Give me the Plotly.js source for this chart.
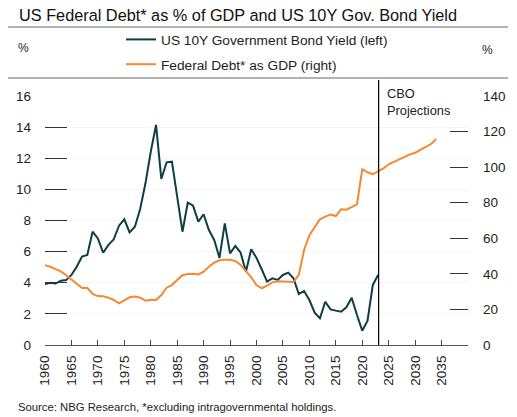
<!DOCTYPE html>
<html>
<head>
<meta charset="utf-8">
<script src="https://cdn.plot.ly/plotly-3.0.1.min.js"></script>
<style>
  html, body { margin: 0; padding: 0; background: #fff; }
  #chart { width: 517px; height: 417px; }
</style>
</head>
<body>
<div id="chart"></div>
<script>
const yieldYears = [];
for (let y = 1960; y <= 2023; y++) yieldYears.push(y);
const bondYield = [3.92, 4.0, 3.95, 4.13, 4.17, 4.5, 5.03, 5.68, 5.78, 7.28,
  6.85, 5.93, 6.43, 6.79, 7.67, 8.08, 7.24, 7.6, 8.74, 10.39,
  12.42, 14.14, 10.67, 11.74, 11.78, 9.64, 7.28, 9.15, 8.95, 7.93,
  8.4, 7.39, 6.75, 5.6, 7.82, 5.89, 6.36, 5.93, 4.71, 6.15,
  5.6, 4.85, 4.07, 4.28, 4.18, 4.5, 4.65, 4.28, 3.28, 3.47,
  2.89, 2.08, 1.71, 2.78, 2.29, 2.21, 2.14, 2.42, 3.04, 1.93,
  0.92, 1.56, 3.86, 4.5];

const debtYears = [];
for (let y = 1960; y <= 2034; y++) debtYears.push(y);
const federalDebt = [44.8, 44.0, 42.7, 41.4, 39.2, 36.9, 34.3, 32.0, 32.2, 28.7,
  27.5, 27.4, 26.6, 25.3, 23.4, 24.9, 26.8, 27.2, 26.6, 24.9,
  25.5, 25.3, 28.1, 32.2, 33.7, 36.5, 39.2, 39.9, 40.1, 39.7,
  41.2, 44.0, 46.3, 47.6, 48.0, 47.9, 47.2, 45.0, 41.6, 38.1,
  33.7, 31.9, 33.4, 35.2, 35.8, 35.8, 35.6, 35.4, 39.4, 53.4,
  61.8, 66.5, 70.7, 72.2, 73.3, 72.5, 76.3, 76.1, 77.8, 79.1,
  98.8, 97.1, 96.0, 97.6, 99.3, 101.6, 103.1, 104.4, 105.9, 107.2,
  108.1, 109.6, 111.1, 113.0, 115.8];

const xTickVals = [1960, 1965, 1970, 1975, 1980, 1985, 1990, 1995, 2000, 2005, 2010, 2015, 2020, 2025, 2030, 2035];
const xTickText = xTickVals.map(String);
const leftTicks = [0, 2, 4, 6, 8, 10, 12, 14, 16];
const rightTicks = [0, 20, 40, 60, 80, 100, 120, 140];
const projectionStart = 2023.1;

const FONT = 'Liberation Sans, Arial, sans-serif';
const TEAL = '#0d3d45';
const ORANGE = '#f7882f';

const traces = [
  {x: yieldYears, y: bondYield, type: 'scatter', mode: 'lines',
   name: 'US 10Y Government Bond Yield (left)',
   line: {color: TEAL, width: 2}, yaxis: 'y', legendgroup: 'a'},
  {x: debtYears, y: federalDebt, type: 'scatter', mode: 'lines',
   name: 'Federal Debt* as GDP (right)',
   line: {color: ORANGE, width: 2}, yaxis: 'y2', legendgroup: 'b'}
];

const W = 517, H = 417;
const layout = {
  width: W, height: H,
  margin: {l: 45, r: 49, t: 96, b: 72, autoexpand: false},
  paper_bgcolor: '#fff', plot_bgcolor: '#fff',
  font: {family: FONT, color: '#222', size: 13},
  title: {
    text: 'US Federal Debt* as % of GDP and US 10Y Gov. Bond Yield',
    font: {family: FONT, size: 16.3, color: '#111'},
    xref: 'container', yref: 'container', x: 19/W, xanchor: 'left',
    y: 1 - 15/H, yanchor: 'middle'
  },
  showlegend: true,
  legend: {
    xref: 'container', yref: 'container',
    x: 121/W, xanchor: 'left', y: 1 - 24/H, yanchor: 'top',
    bgcolor: 'rgba(0,0,0,0)', font: {family: FONT, size: 13.7, color: '#222'},
    tracegroupgap: 4, orientation: 'v'
  },
  xaxis: {
    range: [1960, 2040], tickmode: 'array', tickvals: xTickVals, ticktext: xTickText,
    tickangle: -90, ticks: 'inside', ticklen: 5, tickcolor: '#444',
    showline: true, linecolor: '#555', linewidth: 1.2,
    showgrid: false, zeroline: false, tickfont: {size: 13.5, color: '#222'},
    ticklabelstandoff: 4, fixedrange: true
  },
  yaxis: {
    range: [0, 16], tickmode: 'array', tickvals: leftTicks,
    ticks: 'inside', ticklen: 22, tickcolor: '#333', tickwidth: 1,
    showline: false, showgrid: true, gridcolor: '#f6f6f6', zeroline: false,
    tickfont: {size: 13.5, color: '#222'}, ticklabelstandoff: 13, fixedrange: true
  },
  yaxis2: {
    range: [0, 140], tickmode: 'array', tickvals: rightTicks,
    overlaying: 'y', side: 'right',
    ticks: 'inside', ticklen: 18, tickcolor: '#333', tickwidth: 1,
    showline: false, showgrid: false, zeroline: false,
    tickfont: {size: 13.5, color: '#222'}, ticklabelstandoff: 14, fixedrange: true
  },
  shapes: [
    {type: 'line', xref: 'paper', yref: 'paper', x0: (8-45)/423, x1: (508-45)/423,
     y0: (345-27)/249, y1: (345-27)/249, line: {color: '#666', width: 1.2}},
    {type: 'line', xref: 'paper', yref: 'paper', x0: (8-45)/423, x1: (508-45)/423,
     y0: (345-78)/249, y1: (345-78)/249, line: {color: '#666', width: 1.2}},
    {type: 'line', xref: 'x', yref: 'paper', x0: projectionStart, x1: projectionStart,
     y0: 0, y1: (345-80)/249, line: {color: '#000', width: 1.2}}
  ],
  annotations: [
    {text: 'CBO<br>Projections', xref: 'paper', yref: 'paper',
     x: (385-45)/423, xanchor: 'left', y: (345-101.5)/249, yanchor: 'middle',
     showarrow: false, align: 'left', font: {size: 12.8, color: '#222'}},
    {text: '%', xref: 'paper', yref: 'paper', x: (23-45)/423, xanchor: 'center',
     y: (345-48)/249, yanchor: 'middle', showarrow: false, font: {size: 12, color: '#222'}},
    {text: '%', xref: 'paper', yref: 'paper', x: (487-45)/423, xanchor: 'center',
     y: (345-50)/249, yanchor: 'middle', showarrow: false, font: {size: 12, color: '#222'}},
    {text: 'Source: NBG Research, *excluding intragovernmental holdings.', xref: 'paper', yref: 'paper',
     x: (16-45)/423, xanchor: 'left', y: (345-407)/249, yanchor: 'middle',
     showarrow: false, font: {size: 11.3, color: '#222'}}
  ]
};

Plotly.newPlot('chart', traces, layout, {displayModeBar: false, staticPlot: true});
</script>
</body>
</html>
